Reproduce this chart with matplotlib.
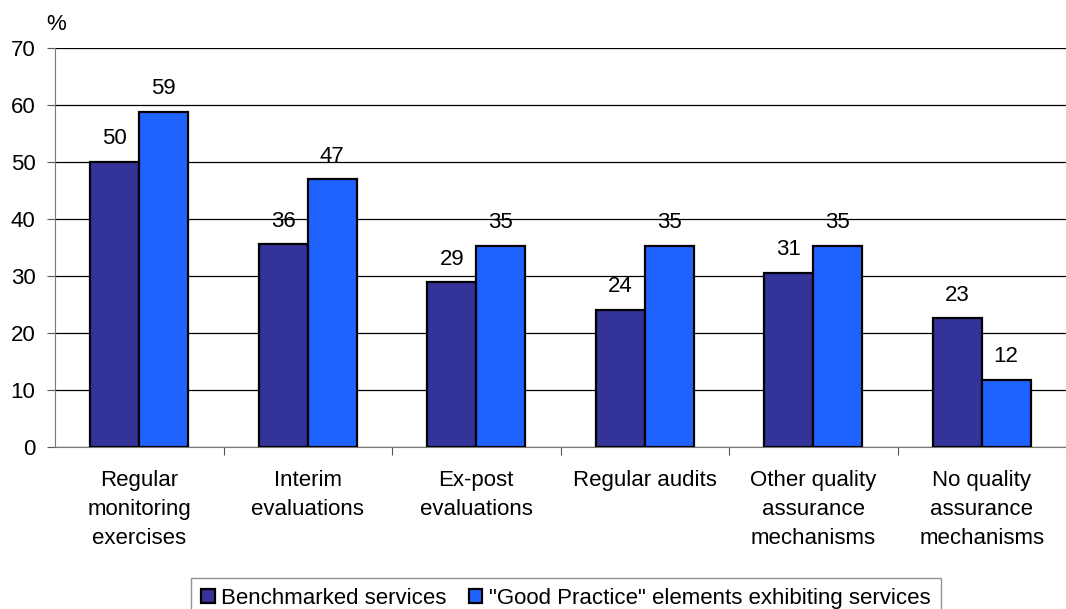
import matplotlib.pyplot as plt
import numpy as np

plt.rcParams['font.family'] = ['Liberation Sans', 'DejaVu Sans']

categories = ['Regular\nmonitoring\nexercises', 'Interim\nevaluations', 'Ex-post\nevaluations',
              'Regular audits', 'Other quality\nassurance\nmechanisms', 'No quality\nassurance\nmechanisms']
benchmarked = [50.0, 35.6, 28.9, 24.1, 30.6, 22.6]
good_practice = [58.8, 47.0, 35.3, 35.3, 35.3, 11.8]
series_names = ['Benchmarked services', '"Good Practice" elements exhibiting services']

fs = 16

fig = plt.figure(figsize=(10.66, 6.09), dpi=100)
ax = fig.add_axes([55 / 1066, 162 / 609, 1 - 55 / 1066, 399 / 609])

x = np.arange(len(categories))
w = 0.29
b1 = ax.bar(x - w / 2, benchmarked, w, color='#333399', edgecolor='black', linewidth=1.6,
            label=series_names[0], zorder=3)
b2 = ax.bar(x + w / 2, good_practice, w, color='#1F63FF', edgecolor='black', linewidth=1.6,
            label=series_names[1], zorder=3)

for bars, vals in [(b1, benchmarked), (b2, good_practice)]:
    for bar, v in zip(bars, vals):
        ax.annotate(f'{v:.0f}', (bar.get_x() + bar.get_width() / 2, v), xytext=(0, 9),
                    textcoords='offset points', ha='center', va='bottom', fontsize=fs)

ax.set_xlim(-0.5, len(categories) - 0.5)
ax.set_ylim(0, 70)
ax.set_yticks(range(0, 71, 10))
ax.yaxis.grid(True, color='black', linewidth=0.9, zorder=0)
ax.set_axisbelow(True)

# category ticks sit between the groups
ax.set_xticks(x[:-1] + 0.5)
ax.set_xticklabels([])
ax.tick_params(axis='x', length=6, color='#555555', direction='out')
ax.tick_params(axis='y', length=6, color='#555555', labelsize=fs, pad=8)
for i, c in enumerate(categories):
    ax.text(i, -4.1, c, ha='center', va='top', fontsize=fs, linespacing=1.5)

for s in ['top', 'right']:
    ax.spines[s].set_visible(False)
ax.spines['left'].set_color('#777777')
ax.spines['bottom'].set_color('#777777')

fig.text(56 / 1066, 1 - 25 / 609, '%', ha='center', va='center', fontsize=fs)

leg = fig.legend(loc='upper center', bbox_to_anchor=(566 / 1066, 1 - 578 / 609), ncol=2, fontsize=fs,
                 frameon=True, fancybox=False, edgecolor='#777777', handlelength=0.6,
                 handleheight=0.6, handletextpad=0.3, columnspacing=1.0, borderpad=0.45,
                 borderaxespad=0)
leg.get_frame().set_linewidth(1.0)

plt.savefig('out.png', dpi=100)
